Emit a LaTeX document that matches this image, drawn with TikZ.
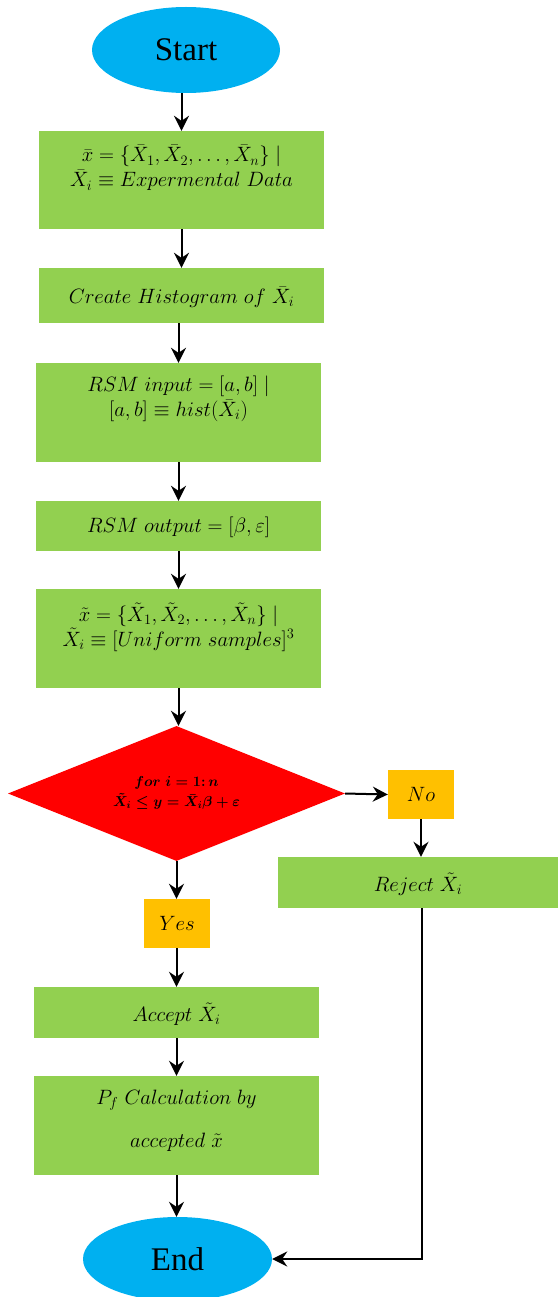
\documentclass[tikz,border=0pt]{standalone}
\usepackage{fontspec}
\newfontfamily\tnr{Liberation Serif}
\usetikzlibrary{shapes.geometric,arrows.meta,calc}
\definecolor{termblue}{HTML}{00B0F0}
\definecolor{procgreen}{HTML}{92D050}
\definecolor{decred}{HTML}{FF0000}
\definecolor{tagorange}{HTML}{FFC000}
\tikzset{
  terminal/.style={ellipse, fill=termblue, inner sep=0pt, font=\tnr\fontsize{33}{36}\selectfont},
  proc/.style={rectangle, fill=procgreen, inner sep=0pt, minimum width=285pt},
  tag/.style={rectangle, fill=tagorange, inner sep=0pt, minimum width=66pt, minimum height=49pt, font=\fontsize{20}{24}\selectfont},
  decision/.style={diamond, fill=decred, inner sep=0pt, minimum width=337pt, minimum height=135pt, aspect=2.5},
  txt/.style={align=center, inner sep=0pt, font=\fontsize{20}{25}\selectfont},
  arr/.style={line width=2pt, -{Stealth[length=15pt, width=15pt, inset=5pt]}},
}
\begin{document}
\begin{tikzpicture}[x=1pt, y=-1pt]
\useasboundingbox (0,0) rectangle (558,1297);

% terminals
\node[terminal, minimum width=188pt, minimum height=86pt] (start) at (186,50) {Start};
\node[terminal, minimum width=189pt, minimum height=84pt] (end) at (177.5,1259) {End};

% process boxes
\node[proc, minimum height=98pt] (b1) at (181.5,180) {};
\node[txt] (t1) at (181.5,168) {$\bar{x}=\{\bar{X}_1,\bar{X}_2,\dots,\bar{X}_n\}\mid$\\$\bar{X}_i\equiv Expermental\ Data$};

\node[proc, minimum height=55pt] (b2) at (181.5,295.5) {};
\node[txt] (t2) at (181.5,297) {$Create\ Histogram\ of\ \bar{X}_i$};

\node[proc, minimum height=99pt] (b3) at (178.5,412.5) {};
\node[txt] (t3) at (178.5,399) {$RSM\ input=[a,b]\mid$\\$[a,b]\equiv hist(\bar{X}_i)$};

\node[proc, minimum height=50pt] (b4) at (178.5,526) {};
\node[txt] (t4) at (178.5,527) {$RSM\ output=[\beta,\varepsilon]$};

\node[proc, minimum height=99pt] (b5) at (178.5,638.5) {};
\node[txt] (t5) at (178.5,627) {$\tilde{x}=\{\tilde{X}_1,\tilde{X}_2,\dots,\tilde{X}_n\}\mid$\\$\tilde{X}_i\equiv[Uniform\ samples]^3$};

% decision
\node[decision] (dia) at (176.5,793.5) {};
\node[txt, font=\fontsize{14}{20}\selectfont\boldmath] (td) at (176.5,793) {$for\ i=1\colon n$\\$\tilde{X}_i\le y=\bar{X}_i\beta+\varepsilon$};

% branches
\node[tag] (no) at (421,794.5) {$No$};
\node[proc, minimum width=280pt, minimum height=51pt] (rej) at (418,882.5) {};
\node[txt] (trej) at (418,884) {$Reject\ \tilde{X}_i$};

\node[tag] (yes) at (177,923.5) {$Yes$};
\node[proc, minimum height=51pt] (acc) at (176.5,1012.5) {};
\node[txt] (tacc) at (176.5,1014) {$Accept\ \tilde{X}_i$};

\node[proc, minimum height=99pt] (pf) at (176.5,1125.5) {};
\node[txt, font=\fontsize{20}{43}\selectfont] (tpf) at (176.5,1121) {$P_f\ Calculation\ by$\\$accepted\ \tilde{x}$};

% connectors
\draw[arr] (b1.north |- start.south) -- (b1.north);
\draw[arr] (b1.south) -- (b1.south |- b2.north);
\draw[arr] (b3.north |- b2.south) -- (b3.north);
\draw[arr] (b3.south) -- (b3.south |- b4.north);
\draw[arr] (b4.south) -- (b4.south |- b5.north);
\draw[arr] (b5.south) -- (b5.south |- dia.north);
\draw[arr] (dia.east) -- (no.west);
\draw[arr] (no.south) -- (no.south |- rej.north);
\draw[arr] (dia.south) -- (dia.south |- yes.north);
\draw[arr] (acc.north |- yes.south) -- (acc.north);
\draw[arr] (acc.south) -- (acc.south |- pf.north);
\draw[arr] (pf.south) -- (pf.south |- end.north);
\draw[arr] ($(rej.south)+(4,0)$) |- (end.east);
\end{tikzpicture}
\end{document}
